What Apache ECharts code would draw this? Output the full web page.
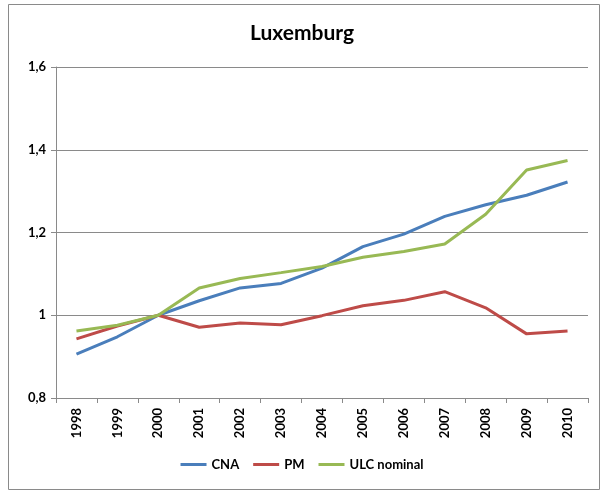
<!DOCTYPE html>
<html>
<head>
<meta charset="utf-8">
<script src="https://cdn.jsdelivr.net/npm/echarts@6/dist/echarts.min.js"></script>
<style>
  html, body { margin: 0; padding: 0; background: #fff; }
  #chart { width: 604px; height: 493px; }
</style>
</head>
<body>
<div id="chart"></div>
<script>
// Luxemburg - indices (2000 = 1)
const years = ['1998', '1999', '2000', '2001', '2002', '2003', '2004', '2005', '2006', '2007', '2008', '2009', '2010']
const cna = [0.906, 0.948, 1.0, 1.035, 1.066, 1.077, 1.114, 1.166, 1.196, 1.239, 1.267, 1.290, 1.322]
const pm = [0.943, 0.974, 1.0, 0.971, 0.981, 0.977, 0.999, 1.023, 1.036, 1.057, 1.018, 0.955, 0.962]
const ulc = [0.962, 0.976, 1.0, 1.066, 1.089, 1.103, 1.118, 1.140, 1.154, 1.172, 1.244, 1.351, 1.374]

const font = 'Lato, "DejaVu Sans", sans-serif'
const grey = '#8a8a8a'

const chart = echarts.init(document.getElementById('chart'))

const lineSeries = (name, data, color) => ({
  name: name,
  type: 'line',
  data: data,
  symbol: 'none',
  lineStyle: { color: color, width: 3 },
  itemStyle: { color: color },
  animation: false
})

chart.setOption({
  backgroundColor: '#fff',
  graphic: [{
    type: 'rect',
    shape: { x: 8.5, y: 4.5, width: 591, height: 485 },
    style: { fill: 'none', stroke: grey, lineWidth: 1 },
    silent: true
  }],
  title: {
    text: 'Luxemburg',
    left: 'center',
    top: 18,
    textStyle: { fontFamily: font, fontWeight: 'bold', fontSize: 21, color: '#000' }
  },
  legend: {
    bottom: 17,
    left: 'center',
    itemWidth: 26,
    itemHeight: 3,
    itemGap: 14,
    icon: 'rect',
    textStyle: { fontFamily: font, fontWeight: 'bold', fontSize: 13, color: '#000' },
    data: ['CNA', 'PM', 'ULC nominal']
  },
  grid: { left: 56, right: 16, top: 67, bottom: 95, containLabel: false },
  xAxis: {
    type: 'category',
    data: years,
    boundaryGap: true,
    axisLine: { lineStyle: { color: grey, width: 1 } },
    axisTick: { show: true, length: 5, interval: 0, lineStyle: { color: grey } },
    axisLabel: {
      rotate: 90,
      interval: 0,
      margin: 10,
      fontFamily: font,
      fontWeight: 'bold',
      fontSize: 13,
      color: '#000'
    }
  },
  yAxis: {
    type: 'value',
    min: 0.8,
    max: 1.6,
    interval: 0.2,
    axisLine: { show: true, lineStyle: { color: grey, width: 1 } },
    axisTick: { show: true, length: 5, lineStyle: { color: grey } },
    splitLine: { lineStyle: { color: grey, width: 1 } },
    axisLabel: {
      margin: 10,
      fontFamily: font,
      fontWeight: 'bold',
      fontSize: 13,
      color: '#000',
      formatter: v => String(Math.round(v * 10) / 10).replace('.', ',')
    }
  },
  series: [
    lineSeries('CNA', cna, '#4a7ebb'),
    lineSeries('PM', pm, '#be4b48'),
    lineSeries('ULC nominal', ulc, '#98b954')
  ]
})
</script>
</body>
</html>
